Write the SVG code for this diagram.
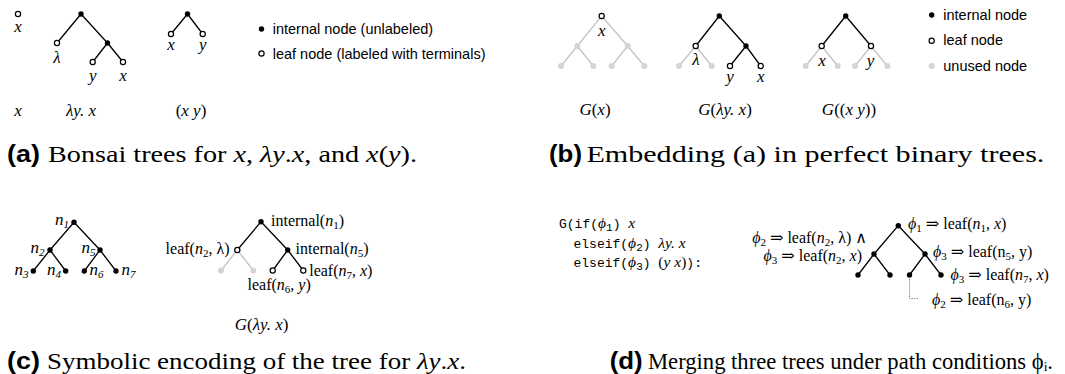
<svg xmlns="http://www.w3.org/2000/svg" width="1065" height="374" viewBox="0 0 1065 374">
<style>
.bk{stroke:#000;stroke-width:1.3;fill:none}
.gy{stroke:#c4c4c4;stroke-width:1.3;fill:none}
.int{fill:#000}
.lf{fill:#fff;stroke:#000;stroke-width:1.2}
.un{fill:#d4d4d4}
.mi{font-family:"Liberation Serif","DejaVu Serif",serif;font-style:italic;font-size:17px}
.t{font-family:"Liberation Serif","DejaVu Serif",serif;font-size:16px}
.i{font-style:italic}
.sb{font-size:11px}
.leg{font-family:"Liberation Sans",Arial,sans-serif;font-size:14.5px}
.code{font-family:"Liberation Mono",monospace;font-size:13px}
.code .m{font-family:"Liberation Serif","DejaVu Serif",serif;font-style:italic;font-size:15.5px}
.capb{font-family:"Liberation Sans",Arial,sans-serif;font-weight:bold;font-size:23px}
.cap{font-family:"Liberation Serif","DejaVu Serif",serif;font-size:23px}
.mid{text-anchor:middle}
.end{text-anchor:end}
</style>

<!-- connectors -->
<g id="connectors">
  <!-- panel a -->
  <path class="bk" d="M81,14L57,43M81,14L107.5,43M107.5,43L92.7,62M107.5,43L123,62"/>
  <path class="bk" d="M187.5,14L171,34M187.5,14L202.7,34"/>
  <!-- panel b -->
  <path class="gy" d="M601.7,16L577.3,46M601.7,16L627.7,46M577.3,46L561,66M577.3,46L593.3,66M627.7,46L611.7,66M627.7,46L644.3,66"/>
  <path class="bk" d="M719.3,16L695.7,46M719.3,16L746,46M746,46L730,66M746,46L760.7,66"/>
  <path class="gy" d="M695.7,46L679,66M695.7,46L711.7,66"/>
  <path class="bk" d="M845.7,16L821.7,46M845.7,16L871,46"/>
  <path class="gy" d="M821.7,46L805.7,66M821.7,46L837.7,66M871,46L855,66M871,46L887.3,66"/>
  <!-- panel c -->
  <path class="bk" d="M74,222.3L50,250M74,222.3L100,250M50,250L33.3,271M50,250L65.7,271M100,250L84.3,271M100,250L116,271"/>
  <path class="bk" d="M261,221.7L237.3,250M261,221.7L287.7,250M287.7,250L272.7,270.5M287.7,250L303.3,270.5"/>
  <path class="gy" d="M237.3,250L221,270.5M237.3,250L253.3,270.5"/>
  <!-- panel d -->
  <path class="bk" d="M898.3,225.7L874,254M898.3,225.7L925,254M874,254L858,275M874,254L890,275M925,254L909.5,275M925,254L941,275"/>
  <path d="M909.5,279V298.5H918" fill="none" stroke="#777" stroke-width="1" stroke-dasharray="1.2,1.2"/>
</g>

<!-- ===== panel (a) ===== -->
<g id="a-x">
  <circle class="lf" cx="18" cy="14" r="2.6"/>
  <text class="mi mid" x="18" y="32">x</text>
</g>
<g id="a-lam-root"><circle class="int" cx="81" cy="14" r="2.7"/></g>
<g id="a-lam-l"><circle class="lf" cx="57" cy="43" r="2.6"/><text class="mi mid" x="57" y="63">λ</text></g>
<g id="a-lam-r"><circle class="int" cx="107.5" cy="43" r="2.7"/></g>
<g id="a-lam-rl"><circle class="lf" cx="92.7" cy="62" r="2.6"/><text class="mi mid" x="92.7" y="81">y</text></g>
<g id="a-lam-rr"><circle class="lf" cx="123" cy="62" r="2.6"/><text class="mi mid" x="123" y="81">x</text></g>
<g id="a-app-root"><circle class="int" cx="187.5" cy="14" r="2.7"/></g>
<g id="a-app-l"><circle class="lf" cx="171" cy="34" r="2.6"/><text class="mi mid" x="171" y="50">x</text></g>
<g id="a-app-r"><circle class="lf" cx="202.7" cy="34" r="2.6"/><text class="mi mid" x="202.7" y="50">y</text></g>
<g id="a-legend">
  <circle class="int" cx="261.5" cy="29" r="2.7"/>
  <text class="leg" x="272.7" y="34">internal node (unlabeled)</text>
  <circle class="lf" cx="261.5" cy="53.5" r="2.6"/>
  <text class="leg" x="272.7" y="59">leaf node (labeled with terminals)</text>
</g>
<g id="a-labels">
  <text class="mi mid" x="18" y="116">x</text>
  <text class="mi mid" x="81" y="116">λy. x</text>
  <text class="mi mid" x="191" y="116"><tspan font-style="normal">(</tspan>x y<tspan font-style="normal">)</tspan></text>
</g>
<g id="cap-a">
  <text class="capb" x="7" y="162" textLength="33" lengthAdjust="spacingAndGlyphs">(a)</text>
  <text class="cap" x="48" y="162" textLength="369" lengthAdjust="spacingAndGlyphs">Bonsai trees for <tspan class="i">x</tspan>, <tspan class="i">λy</tspan>.<tspan class="i">x</tspan>, and <tspan class="i">x</tspan>(<tspan class="i">y</tspan>).</text>
</g>

<!-- ===== panel (b) ===== -->
<g id="b-x-root"><circle class="lf" cx="601.7" cy="16" r="2.6"/><text class="mi mid" x="601.7" y="36">x</text></g>
<g id="b-x-u1"><circle class="un" cx="577.3" cy="46" r="3"/></g>
<g id="b-x-u2"><circle class="un" cx="627.7" cy="46" r="3"/></g>
<g id="b-x-u3"><circle class="un" cx="561" cy="66" r="3"/></g>
<g id="b-x-u4"><circle class="un" cx="593.3" cy="66" r="3"/></g>
<g id="b-x-u5"><circle class="un" cx="611.7" cy="66" r="3"/></g>
<g id="b-x-u6"><circle class="un" cx="644.3" cy="66" r="3"/></g>

<g id="b-lam-root"><circle class="int" cx="719.3" cy="16" r="2.7"/></g>
<g id="b-lam-l"><circle class="lf" cx="695.7" cy="46" r="2.6"/><text class="mi mid" x="696" y="65">λ</text></g>
<g id="b-lam-r"><circle class="int" cx="746" cy="46" r="2.7"/></g>
<g id="b-lam-u1"><circle class="un" cx="679" cy="66" r="3"/></g>
<g id="b-lam-u2"><circle class="un" cx="711.7" cy="66" r="3"/></g>
<g id="b-lam-rl"><circle class="lf" cx="730" cy="66" r="2.6"/><text class="mi mid" x="730" y="82">y</text></g>
<g id="b-lam-rr"><circle class="lf" cx="760.7" cy="66" r="2.6"/><text class="mi mid" x="760.7" y="82">x</text></g>

<g id="b-app-root"><circle class="int" cx="845.7" cy="16" r="2.7"/></g>
<g id="b-app-l"><circle class="lf" cx="821.7" cy="46" r="2.6"/><text class="mi mid" x="822" y="65.5">x</text></g>
<g id="b-app-r"><circle class="lf" cx="871" cy="46" r="2.6"/><text class="mi mid" x="870.5" y="65.5">y</text></g>
<g id="b-app-u1"><circle class="un" cx="805.7" cy="66" r="3"/></g>
<g id="b-app-u2"><circle class="un" cx="837.7" cy="66" r="3"/></g>
<g id="b-app-u3"><circle class="un" cx="855" cy="66" r="3"/></g>
<g id="b-app-u4"><circle class="un" cx="887.3" cy="66" r="3"/></g>

<g id="b-legend">
  <circle class="int" cx="931.7" cy="15" r="2.7"/>
  <text class="leg" x="943.3" y="19.5">internal node</text>
  <circle class="lf" cx="931.7" cy="40.7" r="2.6"/>
  <text class="leg" x="943.3" y="45">leaf node</text>
  <circle class="un" cx="931.7" cy="66" r="3"/>
  <text class="leg" x="943.3" y="70.5">unused node</text>
</g>
<g id="b-labels">
  <text class="mi mid" x="595" y="115">G<tspan font-style="normal">(</tspan>x<tspan font-style="normal">)</tspan></text>
  <text class="mi mid" x="725" y="115">G<tspan font-style="normal">(</tspan>λy. x<tspan font-style="normal">)</tspan></text>
  <text class="mi mid" x="849" y="115">G<tspan font-style="normal">((</tspan>x y<tspan font-style="normal">))</tspan></text>
</g>
<g id="cap-b">
  <text class="capb" x="549" y="162" textLength="33" lengthAdjust="spacingAndGlyphs">(b)</text>
  <text class="cap" x="586.4" y="162" textLength="458" lengthAdjust="spacingAndGlyphs">Embedding (a) in perfect binary trees.</text>
</g>

<!-- ===== panel (c) ===== -->
<g id="c-n1"><circle class="int" cx="74" cy="222.3" r="2.7"/><text class="mi end" x="69" y="225">n<tspan class="sb" dy="3">1</tspan></text></g>
<g id="c-n2"><circle class="int" cx="50" cy="250" r="2.7"/><text class="mi end" x="44.5" y="253">n<tspan class="sb" dy="3">2</tspan></text></g>
<g id="c-n5"><circle class="int" cx="100" cy="250" r="2.7"/><text class="mi end" x="95.5" y="253">n<tspan class="sb" dy="3">5</tspan></text></g>
<g id="c-n3"><circle class="int" cx="33.3" cy="271" r="2.7"/><text class="mi end" x="28.5" y="274.5">n<tspan class="sb" dy="3">3</tspan></text></g>
<g id="c-n4"><circle class="int" cx="65.7" cy="271" r="2.7"/><text class="mi end" x="61" y="274.5">n<tspan class="sb" dy="3">4</tspan></text></g>
<g id="c-n6"><circle class="int" cx="84.3" cy="271" r="2.7"/><text class="mi" x="89.5" y="274.5">n<tspan class="sb" dy="3">6</tspan></text></g>
<g id="c-n7"><circle class="int" cx="116" cy="271" r="2.7"/><text class="mi" x="121.5" y="274.5">n<tspan class="sb" dy="3">7</tspan></text></g>

<g id="c-g-root"><circle class="int" cx="261" cy="221.7" r="2.7"/><text class="t" x="271" y="226">internal(<tspan class="i">n</tspan><tspan class="sb" dy="3">1</tspan><tspan dy="-3">)</tspan></text></g>
<g id="c-g-l"><circle class="lf" cx="237.3" cy="250" r="2.6"/><text class="t end" x="229.5" y="254">leaf(<tspan class="i">n</tspan><tspan class="sb" dy="3">2</tspan><tspan dy="-3">, λ)</tspan></text></g>
<g id="c-g-r"><circle class="int" cx="287.7" cy="250" r="2.7"/><text class="t" x="295.5" y="254">internal(<tspan class="i">n</tspan><tspan class="sb" dy="3">5</tspan><tspan dy="-3">)</tspan></text></g>
<g id="c-g-u1"><circle class="un" cx="221" cy="270.5" r="3"/></g>
<g id="c-g-u2"><circle class="un" cx="253.3" cy="270.5" r="3"/></g>
<g id="c-g-rl"><circle class="lf" cx="272.7" cy="270.5" r="2.6"/><text class="t" x="247.5" y="290">leaf(<tspan class="i">n</tspan><tspan class="sb" dy="3">6</tspan><tspan dy="-3">, </tspan><tspan class="i">y</tspan>)</text></g>
<g id="c-g-rr"><circle class="lf" cx="303.3" cy="270.5" r="2.6"/><text class="t" x="309.2" y="276">leaf(<tspan class="i">n</tspan><tspan class="sb" dy="3">7</tspan><tspan dy="-3">, </tspan><tspan class="i">x</tspan>)</text></g>
<g id="c-label"><text class="mi mid" x="261.6" y="330">G<tspan font-style="normal">(</tspan>λy. x<tspan font-style="normal">)</tspan></text></g>
<g id="cap-c">
  <text class="capb" x="7" y="369" textLength="33" lengthAdjust="spacingAndGlyphs">(c)</text>
  <text class="cap" x="47" y="369" textLength="419" lengthAdjust="spacingAndGlyphs">Symbolic encoding of the tree for <tspan class="i">λy</tspan>.<tspan class="i">x</tspan>.</text>
</g>

<!-- ===== panel (d) ===== -->
<g id="d-code">
  <text class="code" x="559" y="228">G(if(<tspan class="m">ϕ</tspan><tspan class="sb" dy="3">1</tspan><tspan dy="-3">) </tspan><tspan class="m">x</tspan></text>
  <text class="code" x="573.5" y="247.5">elseif(<tspan class="m">ϕ</tspan><tspan class="sb" dy="3">2</tspan><tspan dy="-3">) </tspan><tspan class="m">λy. x</tspan></text>
  <text class="code" x="573.5" y="267">elseif(<tspan class="m">ϕ</tspan><tspan class="sb" dy="3">3</tspan><tspan dy="-3">) </tspan><tspan class="m"><tspan font-style="normal">(</tspan>y x<tspan font-style="normal">)</tspan></tspan>):</text>
</g>
<g id="d-n1"><circle class="int" cx="898.3" cy="225.7" r="2.7"/><text class="t" x="908" y="229"><tspan class="i">ϕ</tspan><tspan class="sb" dy="3">1</tspan><tspan dy="-3"> ⇒ leaf(</tspan><tspan class="i">n</tspan><tspan class="sb" dy="3">1</tspan><tspan dy="-3">, </tspan><tspan class="i">x</tspan>)</text></g>
<g id="d-n2"><circle class="int" cx="874" cy="254" r="2.7"/>
  <text class="t end" x="867" y="243"><tspan class="i">ϕ</tspan><tspan class="sb" dy="3">2</tspan><tspan dy="-3"> ⇒ leaf(</tspan><tspan class="i">n</tspan><tspan class="sb" dy="3">2</tspan><tspan dy="-3">, λ)  ∧</tspan></text>
  <text class="t end" x="862" y="261"><tspan class="i">ϕ</tspan><tspan class="sb" dy="3">3</tspan><tspan dy="-3"> ⇒ leaf(</tspan><tspan class="i">n</tspan><tspan class="sb" dy="3">2</tspan><tspan dy="-3">, </tspan><tspan class="i">x</tspan>)</text>
</g>
<g id="d-n5"><circle class="int" cx="925" cy="254" r="2.7"/><text class="t" x="933" y="257"><tspan class="i">ϕ</tspan><tspan class="sb" dy="3">3</tspan><tspan dy="-3"> ⇒ leaf(n</tspan><tspan class="sb" dy="3">5</tspan><tspan dy="-3">, y)</tspan></text></g>
<g id="d-n3"><circle class="int" cx="858" cy="275" r="2.7"/></g>
<g id="d-n4"><circle class="int" cx="890" cy="275" r="2.7"/></g>
<g id="d-n6"><circle class="int" cx="909.5" cy="275" r="2.7"/><text class="t" x="932" y="305"><tspan class="i">ϕ</tspan><tspan class="sb" dy="3">2</tspan><tspan dy="-3"> ⇒ leaf(n</tspan><tspan class="sb" dy="3">6</tspan><tspan dy="-3">, y)</tspan></text></g>
<g id="d-n7"><circle class="int" cx="941" cy="275" r="2.7"/><text class="t" x="950.5" y="280"><tspan class="i">ϕ</tspan><tspan class="sb" dy="3">3</tspan><tspan dy="-3"> ⇒ leaf(</tspan><tspan class="i">n</tspan><tspan class="sb" dy="3">7</tspan><tspan dy="-3">, </tspan><tspan class="i">x</tspan>)</text></g>
<g id="cap-d">
  <text class="capb" x="609.7" y="369" textLength="33" lengthAdjust="spacingAndGlyphs">(d)</text>
  <text class="cap" x="648" y="369" textLength="405" lengthAdjust="spacingAndGlyphs">Merging three trees under path conditions ϕᵢ.</text>
</g>
</svg>
